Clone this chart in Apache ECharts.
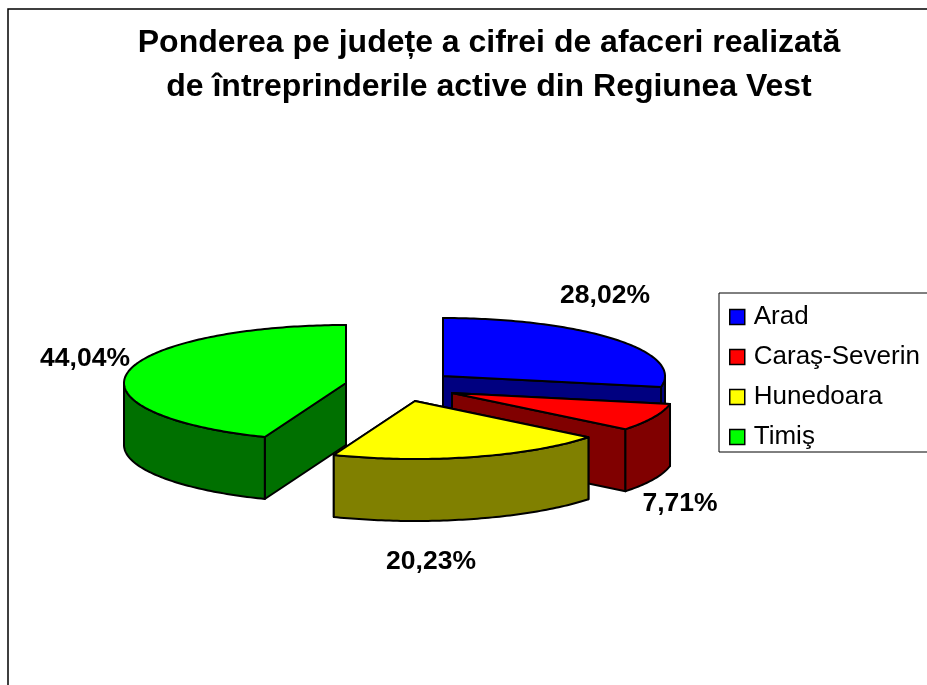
<!DOCTYPE html>
<html lang="ro">
<head>
	<meta charset="UTF-8">
	<title>Ponderea pe judete</title>
	<style>
		html, body { margin: 0; padding: 0; background: #fff; }
		#main { width: 927px; height: 685px; }
	</style>
</head>
<body>
	<div id="main"></div>
	<script src="https://cdn.jsdelivr.net/npm/echarts@6/dist/echarts.min.js"></script>
	<script>
		var titleText = 'Ponderea pe județe a cifrei de afaceri realizată\nde întreprinderile active din Regiunea Vest';
		var categories = ['Arad', 'Caraş-Severin', 'Hunedoara', 'Timiş'];
		var shares = [28.02, 7.71, 20.23, 44.04];

		// colours and placement of the exploded slices, same order as categories
		var topColors = ['#0000ff', '#ff0000', '#ffff00', '#00ff00'];
		var sideColors = ['#000080', '#800000', '#808000', '#007000'];
		var apexes = [[443, 376], [452, 393], [415, 401], [346, 383]];
		var labelSpots = [[605, 296], [680, 504], [431, 562], [85, 359]];
		var drawOrder = [0, 1, 3, 2];
		var RX = 222, RY = 58, DEPTH = 62;
		var FONT = '"Liberation Sans", Arial, sans-serif';

		var total = shares.reduce(function (a, b) { return a + b; }, 0);

		// point on the tilted rim, angle in degrees clockwise from 12 o'clock
		function rimPoint(apex, deg, drop) {
			var r = deg * Math.PI / 180;
			return [apex[0] + RX * Math.sin(r), apex[1] - RY * Math.cos(r) + (drop || 0)];
		}

		function arcPoints(apex, from, to, drop) {
			var pts = [];
			for (var d = from; d < to; d += 1) pts.push(rimPoint(apex, d, drop));
			pts.push(rimPoint(apex, to, drop));
			return pts;
		}

		function face(points, fill) {
			return {
				type: 'polygon',
				shape: { points: points },
				style: { fill: fill, stroke: '#000', lineWidth: 2, lineJoin: 'round' }
			};
		}

		function wall(apex, deg, fill) {
			var p = rimPoint(apex, deg);
			return face([
				apex, p,
				[p[0], p[1] + DEPTH],
				[apex[0], apex[1] + DEPTH]
			], fill);
		}

		function makeRenderItem(idx) {
			return function (params, api) {
				var before = 0;
				for (var i = 0; i < idx; i++) before += shares[i];
				var from = before / total * 360;
				var to = from + api.value(0) / total * 360;
				var apex = apexes[idx];
				var children = [wall(apex, from, sideColors[idx]), wall(apex, to, sideColors[idx])];

				// only the part of the rim facing the viewer gets a side
				var frontFrom = Math.max(from, 90), frontTo = Math.min(to, 270);
				if (frontFrom < frontTo) {
					var upper = arcPoints(apex, frontFrom, frontTo, 0);
					var lower = arcPoints(apex, frontFrom, frontTo, DEPTH).reverse();
					children.push(face(upper.concat(lower), sideColors[idx]));
				}

				children.push(face([apex].concat(arcPoints(apex, from, to, 0)), topColors[idx]));
				children.push({
					type: 'text',
					style: {
						text: api.value(0).toFixed(2).replace('.', ',') + '%',
						x: labelSpots[idx][0],
						y: labelSpots[idx][1],
						align: 'center',
						verticalAlign: 'middle',
						fill: '#000',
						font: 'bold 26.5px ' + FONT
					}
				});
				return { type: 'group', children: children };
			};
		}

		var myChart = echarts.init(document.getElementById('main'));
		var option = {
			animation: false,
			backgroundColor: '#fff',
			title: {
				text: titleText,
				left: 484,
				top: 16,
				textAlign: 'center',
				textStyle: { fontFamily: FONT, fontWeight: 'bold', fontSize: 32, lineHeight: 44, color: '#000' }
			},
			legend: {
				data: categories,
				left: 719,
				top: 293,
				orient: 'vertical',
				icon: 'rect',
				itemWidth: 15,
				itemHeight: 15,
				itemGap: 14,
				padding: [11, 12, 2, 10],
				borderColor: '#000',
				borderWidth: 1,
				backgroundColor: '#fff',
				selectedMode: false,
				itemStyle: { borderColor: '#000', borderWidth: 1.5 },
				textStyle: { fontFamily: FONT, fontSize: 26, color: '#000', padding: [0, 0, 0, 4] }
			},
			graphic: [{
				type: 'rect',
				shape: { x: 8, y: 9, width: 1200, height: 1000 },
				style: { fill: 'none', stroke: '#000', lineWidth: 1.5 },
				silent: true
			}],
			series: drawOrder.map(function (idx) {
				return {
					type: 'custom',
					name: categories[idx],
					coordinateSystem: 'none',
					silent: true,
					itemStyle: { color: topColors[idx] },
					renderItem: makeRenderItem(idx),
					data: [shares[idx]]
				};
			})
		};
		myChart.setOption(option);
	</script>
</body>
</html>
